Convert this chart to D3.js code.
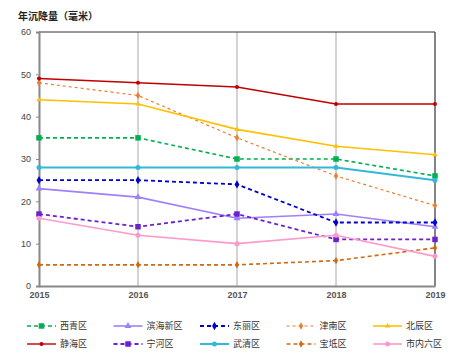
<!DOCTYPE html>
<html>
<head>
<meta charset="utf-8">
<script src="https://cdn.jsdelivr.net/npm/d3@7"></script>
<style>
  body { margin: 0; background: #fff; }
  text { font-family: "Liberation Sans", Arial, "Noto Sans CJK SC", sans-serif; }
</style>
</head>
<body>
<svg id="chart" width="459" height="353"></svg>
<script>
// years on x axis
var years = [2015, 2016, 2017, 2018, 2019];
var yTicks = [0, 10, 20, 30, 40, 50, 60];
var districts = ["西青区", "滨海新区", "东丽区", "津南区", "北辰区", "静海区", "宁河区", "武清区", "宝坻区", "市内六区"];

// yearly subsidence per district (mm)
var xiqing   = [35, 35, 30, 30, 26];
var binhai   = [23, 21, 16, 17, 14];
var dongli   = [25, 25, 24, 15, 15];
var jinnan   = [48, 45, 35, 26, 19];
var beichen  = [44, 43, 37, 33, 31];
var jinghai  = [49, 48, 47, 43, 43];
var ninghe   = [17, 14, 17, 11, 11];
var wuqing   = [28, 28, 28, 28, 25];
var baodi    = [5, 5, 5, 6, 9];
var shinei   = [16, 12, 10, 12, 7];

var seriesValues = [xiqing, binhai, dongli, jinnan, beichen, jinghai, ninghe, wuqing, baodi, shinei];

// style per series
var styles = [
  {color: "#00b050", dash: "4,3", marker: "square", size: 5.5, w: 1.6},
  {color: "#9f7fff", dash: null,  marker: "triangle", size: 4.5, w: 1.6},
  {color: "#0000cc", dash: "4,3", marker: "diamond", size: 4.5, w: 1.8},
  {color: "#ed7d31", dash: "3,3", marker: "diamond", size: 4, w: 1.2},
  {color: "#ffc000", dash: null,  marker: "triangle", size: 3.5, w: 1.6},
  {color: "#c00000", dash: null,  marker: "circle", size: 4, w: 1.4},
  {color: "#6a22cc", dash: "4,3", marker: "square", size: 5.5, w: 1.8},
  {color: "#33b8d8", dash: null,  marker: "circle", size: 5, w: 2},
  {color: "#d06a10", dash: "4,3", marker: "diamond", size: 4, w: 1.6},
  {color: "#ff99cc", dash: null,  marker: "circle", size: 5, w: 1.6}
];

var margin = {t: 32, l: 39, r: 24, b: 67};
var W = 459, H = 353;

var svg = d3.select("#chart");

var x = d3.scalePoint()
  .domain(years)
  .range([margin.l, W - margin.r]);

var y = d3.scaleLinear()
  .domain([0, 60])
  .range([H - margin.b, margin.t]);

// title
svg.append("text")
  .attr("x", 18).attr("y", 20)
  .attr("font-size", 10).attr("font-weight", "bold")
  .attr("fill", "#222")
  .text("年沉降量（毫米）");

// vertical grid lines at each year
svg.append("g")
  .selectAll("line")
  .data(years.slice(1, -1))
  .join("line")
  .attr("x1", d => x(d)).attr("x2", d => x(d))
  .attr("y1", y(60)).attr("y2", y(0))
  .attr("stroke", "#a8a8a8").attr("stroke-width", 1);

// frame: top and right
svg.append("line")
  .attr("x1", x(2015)).attr("x2", x(2019))
  .attr("y1", y(60)).attr("y2", y(60))
  .attr("stroke", "#333").attr("stroke-width", 1);
svg.append("line")
  .attr("x1", x(2019)).attr("x2", x(2019))
  .attr("y1", y(60)).attr("y2", y(0))
  .attr("stroke", "#333").attr("stroke-width", 1.2);

// y axis
var yAxis = svg.append("g")
  .attr("transform", "translate(" + x(2015) + ",0)")
  .call(d3.axisLeft(y).tickValues(yTicks).tickSize(3).tickPadding(5));
yAxis.select(".domain").attr("stroke", "#888").attr("stroke-width", 2);
yAxis.selectAll(".tick line").attr("stroke", "#888");
yAxis.selectAll("text").attr("font-size", 9).attr("fill", "#444")
  .style("font-family", "Liberation Sans, Arial, sans-serif");

// x axis
var xAxis = svg.append("g")
  .attr("transform", "translate(0," + y(0) + ")")
  .call(d3.axisBottom(x).tickSize(0).tickPadding(6).tickFormat(d3.format("d")));
xAxis.select(".domain").attr("stroke", "#888").attr("stroke-width", 2);
xAxis.selectAll("text").attr("font-size", 9).attr("font-weight", "bold").attr("fill", "#555")
  .style("font-family", "Liberation Sans, Arial, sans-serif");

function symbolFor(s) {
  var type = {square: d3.symbolSquare, triangle: d3.symbolTriangle, diamond: d3.symbolDiamond, circle: d3.symbolCircle}[s.marker];
  return d3.symbol().type(type).size(s.size * s.size * (s.marker == "circle" ? 0.8 : 1));
}

var line = d3.line()
  .x((d, i) => x(years[i]))
  .y(d => y(d));

var series = svg.append("g")
  .selectAll("g")
  .data(seriesValues)
  .join("g");

series.append("path")
  .attr("d", d => line(d))
  .attr("fill", "none")
  .attr("stroke", (d, i) => styles[i].color)
  .attr("stroke-width", (d, i) => styles[i].w)
  .attr("stroke-dasharray", (d, i) => styles[i].dash);

series.each(function(vals, i) {
  var s = styles[i];
  d3.select(this).selectAll("path.pt")
    .data(vals)
    .join("path")
    .attr("class", "pt")
    .attr("transform", (d, j) => "translate(" + x(years[j]) + "," + y(d) + ")")
    .attr("d", symbolFor(s))
    .attr("fill", s.color);
});

// legend
var legend = svg.append("g")
  .selectAll("g")
  .data(districts)
  .join("g")
  .attr("transform", (d, i) => "translate(" + (27 + (i % 5) * 86.5) + "," + (326 + Math.floor(i / 5) * 18) + ")");

legend.append("line")
  .attr("x1", 0).attr("x2", 29)
  .attr("y1", 0).attr("y2", 0)
  .attr("stroke", (d, i) => styles[i].color)
  .attr("stroke-width", (d, i) => styles[i].w)
  .attr("stroke-dasharray", (d, i) => styles[i].dash);

legend.append("path")
  .attr("transform", "translate(14.5,0)")
  .attr("d", (d, i) => symbolFor(styles[i])())
  .attr("fill", (d, i) => styles[i].color);

legend.append("text")
  .attr("x", 33).attr("y", 0).attr("dy", "0.35em")
  .attr("font-size", 9).attr("fill", "#333")
  .text(d => d);
</script>
</body>
</html>
